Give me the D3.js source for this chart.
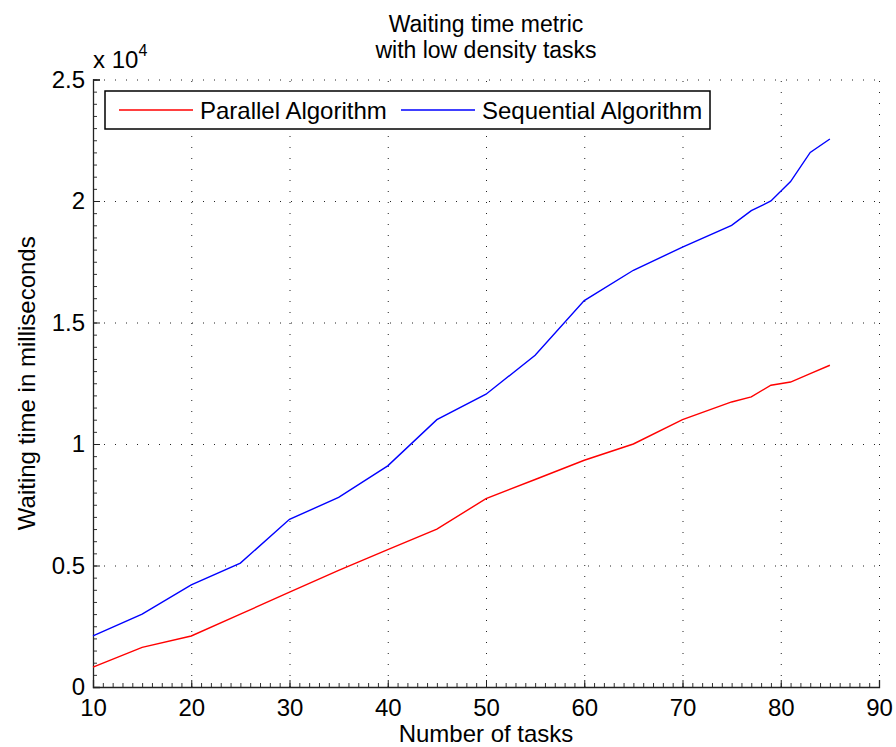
<!DOCTYPE html>
<html>
<head>
<meta charset="utf-8">
<script src="https://cdn.jsdelivr.net/npm/d3@7"></script>
<style>
  body { margin: 0; background: #fff; }
  svg { font-family: "Liberation Sans", Arial, Helvetica, sans-serif; }
</style>
</head>
<body>
<div id="chart"></div>
<script>
const tasks = [10, 15, 20, 25, 30, 35, 40, 45, 50, 55, 60, 65, 70, 75, 77, 79, 81, 83, 85];
const parallelTimes = [820, 1630, 2100, 3000, 3900, 4800, 5650, 6500, 7750, 8540, 9330, 10000, 11000, 11730, 11940, 12420, 12550, 12900, 13240];
const sequentialTimes = [2100, 3000, 4200, 5100, 6900, 7800, 9100, 11000, 12050, 13650, 15900, 17150, 18100, 19000, 19600, 20000, 20800, 22000, 22550];
const seriesNames = ['Parallel Algorithm', 'Sequential Algorithm'];
const xTicks = [10, 20, 30, 40, 50, 60, 70, 80, 90];
const yTicks = [0, 5000, 10000, 15000, 20000, 25000];

const colors = ['#ff0000', '#0000ff'];
const outerWidth = 896;
const outerHeight = 747;
const margin = { top: 79.5, right: 17, bottom: 60, left: 93 };
const width = outerWidth - margin.left - margin.right;
const height = outerHeight - margin.top - margin.bottom;

const svg = d3.select('#chart').append('svg')
    .attr('width', outerWidth)
    .attr('height', outerHeight);

const g = svg.append('g')
    .attr('transform', `translate(${margin.left}, ${margin.top})`);

const x = d3.scaleLinear().domain([10, 90]).range([0, width]);
const y = d3.scaleLinear().domain([0, 25000]).range([height, 0]);

// dotted grid
g.append('g')
    .attr('class', 'grid')
    .call(d3.axisLeft(y).tickValues(yTicks.slice(1)).tickSize(-width).tickFormat(''))
    .call(s => s.select('.domain').remove());
g.append('g')
    .attr('class', 'grid')
    .attr('transform', `translate(0, ${height})`)
    .call(d3.axisBottom(x).tickValues(xTicks.slice(1)).tickSize(-height).tickFormat(''))
    .call(s => s.select('.domain').remove());
g.selectAll('.grid line')
    .attr('stroke', '#222')
    .attr('stroke-width', 1)
    .attr('stroke-dasharray', '1,10');

// minor ticks
g.append('g')
    .attr('class', 'minor')
    .call(d3.axisLeft(y).tickValues(d3.range(0, 25001, 500)).tickSize(-4).tickFormat(''));
g.append('g')
    .attr('class', 'minor')
    .attr('transform', `translate(0, ${height})`)
    .call(d3.axisBottom(x).tickValues(d3.range(10, 91, 1)).tickSize(-4).tickFormat(''));
g.selectAll('.minor .domain').remove();
g.selectAll('.minor line').attr('stroke', '#333');

// main axes
const yAxis = g.append('g')
    .call(d3.axisLeft(y).tickValues(yTicks).tickSize(-7).tickPadding(8).tickFormat(d => d / 10000));
const xAxis = g.append('g')
    .attr('transform', `translate(0, ${height})`)
    .call(d3.axisBottom(x).tickValues(xTicks).tickSize(-7).tickPadding(12));

[xAxis, yAxis].forEach(a => {
    a.select('.domain').attr('stroke', '#222').attr('stroke-width', 1.3);
    a.selectAll('.tick line').attr('stroke', '#222');
    a.selectAll('text').attr('font-size', 24).attr('fill', '#000')
        .style('font-family', '"Liberation Sans", Arial, sans-serif');
});

// lines
const line = d3.line()
    .x((d, i) => x(tasks[i]))
    .y(d => y(d));

[parallelTimes, sequentialTimes].forEach((vals, i) => {
    g.append('path')
        .datum(vals)
        .attr('fill', 'none')
        .attr('stroke', colors[i])
        .attr('stroke-width', 1.4)
        .attr('d', line);
});

// exponent label
const expo = g.append('text')
    .attr('x', 0)
    .attr('y', -12)
    .attr('font-size', 24)
    .text('x 10');
expo.append('tspan')
    .attr('font-size', 16)
    .attr('dy', -12)
    .text('4');

// title, two lines
const cx = margin.left + width / 2;
svg.append('text')
    .attr('x', cx).attr('y', 32)
    .attr('text-anchor', 'middle')
    .attr('font-size', 23)
    .text('Waiting time metric');
svg.append('text')
    .attr('x', cx).attr('y', 58)
    .attr('text-anchor', 'middle')
    .attr('font-size', 23)
    .text('with low density tasks');

// axis labels
svg.append('text')
    .attr('x', cx)
    .attr('y', 742)
    .attr('text-anchor', 'middle')
    .attr('font-size', 24)
    .text('Number of tasks');

svg.append('text')
    .attr('transform', `translate(35, ${margin.top + height / 2}) rotate(-90)`)
    .attr('text-anchor', 'middle')
    .attr('font-size', 24)
    .text('Waiting time in milliseconds');

// legend
const legend = svg.append('g').attr('transform', 'translate(105, 91)');
legend.append('rect')
    .attr('width', 605)
    .attr('height', 38)
    .attr('fill', '#fff')
    .attr('stroke', '#000')
    .attr('stroke-width', 1.5);
const legendItems = [
    { x: 14, name: seriesNames[0], color: colors[0] },
    { x: 296, name: seriesNames[1], color: colors[1] }
];
legendItems.forEach(item => {
    legend.append('line')
        .attr('x1', item.x).attr('x2', item.x + 74)
        .attr('y1', 19).attr('y2', 19)
        .attr('stroke', item.color)
        .attr('stroke-width', 1.4);
    legend.append('text')
        .attr('x', item.x + 81)
        .attr('y', 28)
        .attr('font-size', 24)
        .text(item.name);
});
</script>
</body>
</html>
